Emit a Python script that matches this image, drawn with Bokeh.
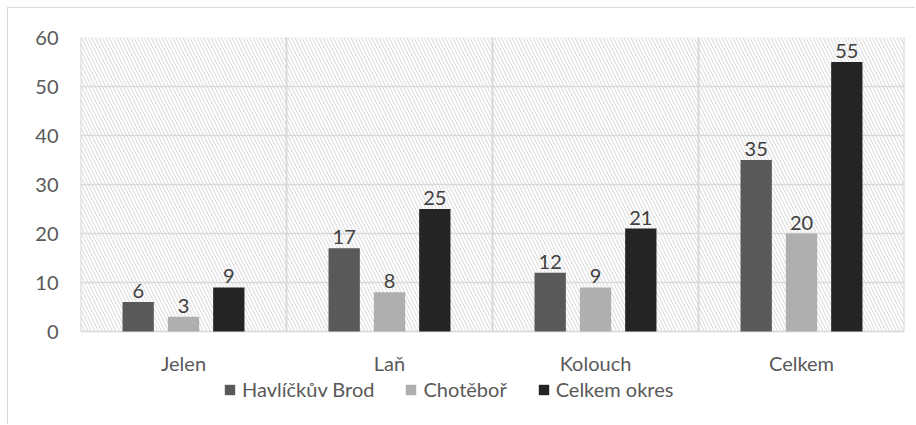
import numpy as np
from bokeh.plotting import figure
from bokeh.models import (ColumnDataSource, FixedTicker, Legend, LegendItem,
                          BoxAnnotation, LinearAxis, Range1d)
from bokeh.embed import file_html
from bokeh.resources import INLINE

categories = ["Jelen", "Laň", "Kolouch", "Celkem"]
series_names = ["Havlíčkův Brod", "Chotěboř", "Celkem okres"]
havlickuv_brod = [6, 17, 12, 35]
chotebor = [3, 8, 9, 20]
celkem_okres = [9, 25, 21, 55]
y_ticks = [0, 10, 20, 30, 40, 50, 60]

series_values = [havlickuv_brod, chotebor, celkem_okres]
colors = ["#595959", "#afafaf", "#242424"]
offsets = [-0.22, 0.0, 0.22]
bar_width = 0.152

FONT = "Lato"
FS = "20px"
LABEL_COLOR = "#595959"
GRID = "#d9d9d9"

# layout (pixels)
PLOT_PX = 294      # height of the 0..60 area
BELOW_PX = 94      # white area below zero line (axis labels + legend)
y_start = -max(y_ticks) * BELOW_PX / PLOT_PX

p = figure(width=908, height=417, output_backend="svg", toolbar_location=None,
           x_range=Range1d(0, len(categories)),
           y_range=Range1d(y_start, max(y_ticks)),
           x_axis_location=None,
           min_border_left=72, min_border_top=29, min_border_right=12,
           min_border_bottom=0)
p.styles = {"margin-left": "7px", "margin-top": "7px",
            "border-left": "1px solid #d9d9d9", "border-top": "1px solid #d9d9d9"}
p.outline_line_color = None

# hatched background of plot area (0..60)
bg = BoxAnnotation(bottom=0, fill_color="white", fill_alpha=1.0,
                   hatch_pattern="\\", hatch_color="#dedede", hatch_scale=7,
                   hatch_weight=1.1, line_color=GRID, line_width=1.5,
                   level="image")
p.add_layout(bg)

# vertical separators between categories
bounds = np.arange(len(categories) + 1)
p.segment(x0=bounds, y0=0, x1=bounds, y1=max(y_ticks), line_color=GRID,
          line_width=2, level="underlay")

centers = np.arange(len(categories)) + 0.5
renderers = []
for vals, col, off in zip(series_values, colors, offsets):
    src = ColumnDataSource(dict(x=centers + off, top=vals,
                                lbl=[str(v) for v in vals]))
    r = p.vbar(x="x", top="top", bottom=0, width=bar_width, source=src,
               fill_color=col, line_color=None)
    p.text(x="x", y="top", text="lbl", source=src, text_align="center",
           text_baseline="bottom", y_offset=-4, text_font_size=FS,
           text_font={"value": FONT}, text_color="#404040")
    renderers.append(r)

# grids
p.xgrid.visible = False
p.ygrid.ticker = FixedTicker(ticks=y_ticks)
p.ygrid.grid_line_color = GRID
p.ygrid.grid_line_width = 1.5

# axes
xaxis = LinearAxis(fixed_location=0, ticker=FixedTicker(ticks=list(centers)))
xaxis.major_label_overrides = {float(c): n for c, n in zip(centers, categories)}
p.add_layout(xaxis, "below")
p.yaxis.ticker = FixedTicker(ticks=y_ticks)
for ax in (xaxis, p.yaxis[0]):
    ax.axis_line_color = None
    ax.major_tick_line_color = None
    ax.minor_tick_line_color = None
    ax.major_tick_out = 0
    ax.minor_tick_out = 0
    ax.major_label_text_font = FONT
    ax.major_label_text_font_size = FS
    ax.major_label_text_color = LABEL_COLOR
p.yaxis.major_label_standoff = 22
xaxis.major_label_standoff = 19

legend = Legend(items=[LegendItem(label=n, renderers=[r])
                       for n, r in zip(series_names, renderers)],
                orientation="horizontal", location=(143, 24),
                glyph_width=13, glyph_height=13, label_standoff=6, spacing=30,
                padding=0, margin=0, border_line_color=None,
                background_fill_alpha=0, label_text_font=FONT,
                label_text_font_size=FS, label_text_color=LABEL_COLOR,
                label_height=20)
p.add_layout(legend, "center")

open("out.html", "w").write(file_html(p, INLINE))
